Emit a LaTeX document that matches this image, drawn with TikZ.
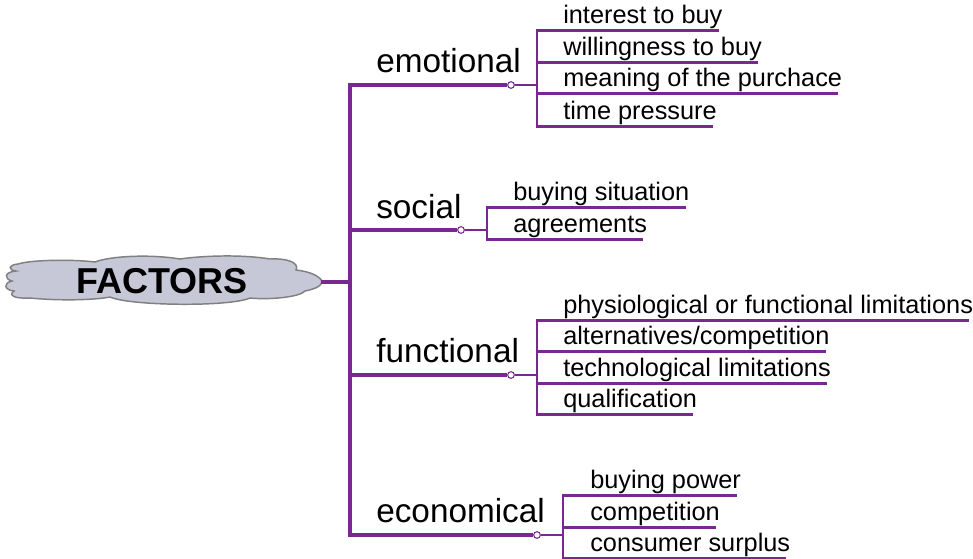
\documentclass[tikz,border=0pt]{standalone}
\usepackage{fontspec}
\setmainfont{Liberation Sans}
\usepackage{xcolor}
\usepackage{tikz}

\definecolor{branch}{RGB}{119,41,145}
\definecolor{cloudfill}{RGB}{198,200,215}

\begin{document}
\begin{tikzpicture}[x=0.75pt, y=-0.75pt,
  cat/.style={anchor=base west, inner sep=0, font=\fontsize{25}{30}\selectfont},
  item/.style={anchor=base west, inner sep=0, text depth=5.25pt, font=\fontsize{19}{23}\selectfont},
  dot/.style={circle, draw=branch, fill=white, line width=0.8pt, inner sep=0, minimum size=5pt},
  trunkline/.style={draw=branch, line width=3pt},
  twig/.style={draw=branch, line width=2.1pt, shorten >=3pt}]
  \useasboundingbox (0,0) rectangle (973,558);

  % Cloud
  \filldraw[fill=cloudfill, draw=gray, line width=1.1pt]
    (322,281) .. controls (318,274) and (305,271) .. (296,270)
    .. controls (300,262) and (285,258) .. (270,259)
    .. controls (240,254) and (200,256) .. (180,259)
    .. controls (150,254) and (110,256) .. (95,262)
    .. controls (70,259) and (30,260) .. (18,264)
    .. controls (8,265) and (8,270) .. (16,271)
    .. controls (4,272) and (4,279) .. (12,281)
    .. controls (3,283) and (4,290) .. (14,291)
    .. controls (8,295) and (14,299) .. (30,298)
    .. controls (60,301) and (95,300) .. (110,297)
    .. controls (130,306) and (230,307) .. (250,298)
    .. controls (270,300) and (300,297) .. (305,291)
    .. controls (315,289) and (322,286) .. (322,281) -- cycle;

  % Root
  \node[font=\bfseries\fontsize{27}{32}\selectfont] (root) at (162,281) {FACTORS};
  \coordinate (tip) at (321,282);
  \coordinate (t) at (350,282);
  \draw[trunkline] (tip) -- (t);

  % Emotional
  \node[cat] (emo) at (376,72) {emotional};
  \node[dot] (ec) at (511,85) {};
  \coordinate (ej) at (537,85);
  \node[item] (e1) at (563,23) {interest to buy};
  \node[item] (e2) at (563,55) {willingness to buy};
  \node[item] (e3) at (563,86) {meaning of the purchace};
  \node[item] (e4) at (563,119) {time pressure};
  \draw[trunkline] (t) |- (ec);
  \draw[twig, shorten >=0pt] (ec) -- (ej);
  \foreach \i in {1,...,4} \draw[twig] (ej) |- (e\i.south east);

  % Social
  \node[cat] (soc) at (376,218) {social};
  \node[dot] (sc) at (461,230) {};
  \coordinate (sj) at (487,230);
  \node[item] (s1) at (513,200) {buying situation};
  \node[item] (s2) at (513,232) {agreements};
  \draw[trunkline] (t) |- (sc);
  \draw[twig, shorten >=0pt] (sc) -- (sj);
  \foreach \i in {1,2} \draw[twig] (sj) |- (s\i.south east);

  % Functional
  \node[cat] (fun) at (376,362) {functional};
  \node[dot] (fc) at (511,375) {};
  \coordinate (fj) at (537,375);
  \node[item] (f1) at (563,313) {physiological or functional limitations};
  \node[item] (f2) at (563,344) {alternatives/competition};
  \node[item] (f3) at (563,376) {technological limitations};
  \node[item] (f4) at (563,407) {qualification};
  \draw[trunkline] (t) |- (fc);
  \draw[twig, shorten >=0pt] (fc) -- (fj);
  \foreach \i in {1,...,4} \draw[twig] (fj) |- (f\i.south east);

  % Economical
  \node[cat] (eco) at (376,522) {economical};
  \node[dot] (xc) at (537,535) {};
  \coordinate (xj) at (563,535);
  \node[item] (x1) at (590,488) {buying power};
  \node[item] (x2) at (590,520) {competition};
  \node[item] (x3) at (590,551) {consumer surplus};
  \draw[trunkline] (t) |- (xc);
  \draw[twig, shorten >=0pt] (xc) -- (xj);
  \foreach \i in {1,2,3} \draw[twig] (xj) |- (x\i.south east);
\end{tikzpicture}
\end{document}
